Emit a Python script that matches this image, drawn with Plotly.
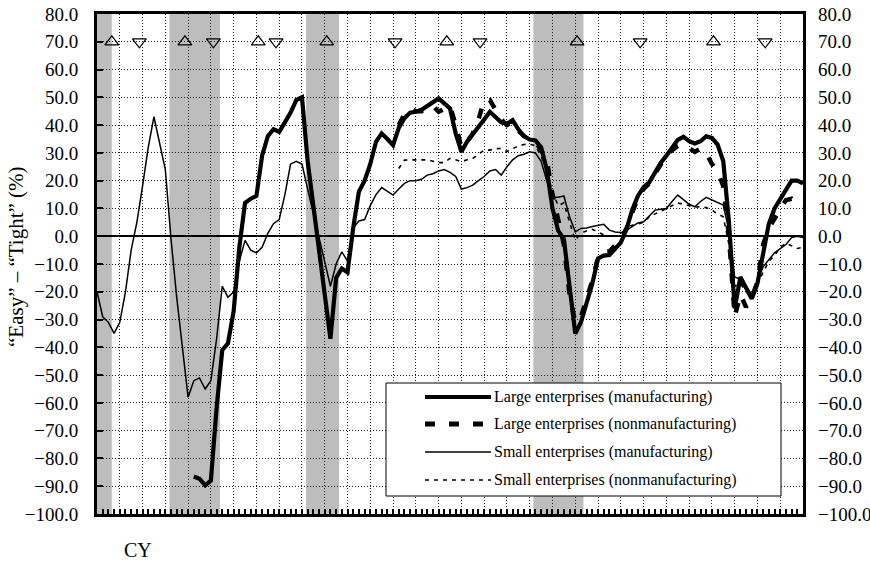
import plotly.graph_objects as go

# ---------------- data (quarterly) ----------------
SMALL_MFG_START = 1970.0
small_mfg = [-20, -29, -31, -35, -31, -20, -5, 5, 18, 32, 43, 34, 24, -1, -22, -40,
             -58, -52, -51, -55, -52, -37, -18, -22, -20, -9, -1.5, -5, -6, -4, 1, 4.5,
             6, 15, 26, 27, 26, 17, 8, -1, -10, -18, -10, -5.6, -9, 3, 5.5, 6,
             11, 15, 17.5, 16, 14.8, 17, 19, 20, 20, 20.5, 22, 22.5, 23.5, 24, 23, 21.5,
             17, 17.5, 18.4, 20, 21.5, 23.5, 24, 22, 25, 27.5, 29, 29.5, 30.4, 30, 27, 20,
             14, 14, 14.5, 7, 1.6, 2.8, 3, 3.5, 4, 4.3, 2.2, 1.5, 1.3, 2, 3.5, 4.8,
             5.2, 7.3, 9.4, 9.7, 10, 12.5, 14.8, 13.2, 11.5, 10.6, 12.5, 14, 13, 12, 11.2, 2,
             -14.7, -15.5, -18, -21, -16, -11, -8.5, -6, -4.5, -3, -0.5, 0, -0.5]

LARGE_MFG_START = 1974.25
large_mfg = [-86.5, -87.3, -89.7, -88, -62, -41, -38.6, -27, -4, 12, 13.5, 14.5, 29, 36, 38.5, 37.6,
             41, 44.5, 49, 50, 27, 10, -6, -21, -36.9, -15, -11.6, -13, 3, 16, 20, 26,
             34, 37, 35, 32.8, 39, 42.5, 44.5, 44.8, 45.5, 47, 48.3, 49.6, 47.8, 46, 37, 30.4,
             34, 36.5, 39, 42, 44.8, 43, 41, 40.5, 41.8, 38.5, 36, 34.8, 34.5, 32, 24, 10,
             2, -1, -17, -35, -31, -23.5, -17, -8, -7, -6.8, -4.5, -2.3, 2.5, 9.5, 14.5, 17.7,
             19.4, 23, 26.4, 29, 32, 34.7, 35.8, 34.2, 33.4, 34.2, 36, 35.4, 33, 27, 5, -26,
             -14.7, -19, -22.5, -17, -6, 4.5, 10, 13.5, 16.5, 20, 20, 19]

NONMFG_START = 1983.25
large_nonmfg = [40, 44, 46, 45, 45, 46, 47, 44.8, 46, 47, 40, 32, 34, 37, 42, 49,
                49, 45.4, 42, 40, 41, 38, 36, 35, 34, 31, 27.4, 15, 5, -3, -21, -31,
                -29, -23, -16, -7.5, -5.6, -5.5, -3.5, -1, 2.8, 9, 14, 17, 19, 22.5, 26, 29,
                31, 32.5, 33, 31.5, 30.4, 31.5, 30, 26, 23.5, 18, 0, -29, -21, -25.5, -22, -16.5,
                -3, 3, 6.5, 10, 13, 13.5, 11.2, 11]
small_nonmfg = [24.4, 27.4, 27.5, 27.5, 27.4, 27.5, 27, 26.5, 26.5, 28, 27.5, 26.8, 27.5, 28, 29.5, 31,
                31, 31.5, 31.6, 30.5, 31.5, 32.5, 33, 33.2, 32.5, 29, 23, 16, 11, 12, 5, -1.4,
                1, 2, 2.5, 1.5, 0.5, 0, 0, 0, 3.4, 4, 4.5, 5, 7, 8, 9, 10,
                11, 12, 11.5, 11, 10.5, 10.6, 10.3, 9.4, 8, 7, -3, -18, -17, -20, -21, -17,
                -13, -9, -7, -4, -2.5, -3.5, -4.4, -4]

series_names = ["Large enterprises (manufacturing)",
                "Large enterprises (nonmanufacturing)",
                "Small enterprises (manufacturing)",
                "Small enterprises (nonmanufacturing)"]

peaks = [1970.65, 1973.86, 1977.08, 1980.09, 1985.36, 1991.08, 1997.07]
troughs = [1971.86, 1975.11, 1977.86, 1983.09, 1986.82, 1993.85, 1999.34]
marker_level = 70

shade_start = [1970.0, 1973.18, 1979.18, 1989.16]
shade_end = [1970.65, 1975.40, 1980.63, 1991.36]

y_ticks = list(range(-100, 81, 10))
X_RANGE = [1970.0, 2001.0]
Y_RANGE = [-100, 80]


def qx(start, n):
    return [start + 0.25 * k for k in range(n)]


FONT = "Liberation Serif"

fig = go.Figure()

# shaded periods
for s, e in zip(shade_start, shade_end):
    fig.add_shape(type="rect", xref="x", yref="y", x0=s, x1=e, y0=Y_RANGE[0], y1=Y_RANGE[1],
                  fillcolor="#bdbdbd", line_width=0, layer="below")

fig.add_trace(go.Scatter(x=qx(SMALL_MFG_START, len(small_mfg)), y=small_mfg, mode="lines",
                         line=dict(color="black", width=1.5), name=series_names[2], showlegend=False))
fig.add_trace(go.Scatter(x=qx(NONMFG_START, len(small_nonmfg)), y=small_nonmfg, mode="lines",
                         line=dict(color="black", width=1.6, dash="4px,5px"), name=series_names[3], showlegend=False))
fig.add_trace(go.Scatter(x=qx(NONMFG_START, len(large_nonmfg)), y=large_nonmfg, mode="lines",
                         line=dict(color="black", width=4.5, dash="10px,14px"), name=series_names[1], showlegend=False))
fig.add_trace(go.Scatter(x=qx(LARGE_MFG_START, len(large_mfg)), y=large_mfg, mode="lines",
                         line=dict(color="black", width=4.2), name=series_names[0], showlegend=False))

fig.add_trace(go.Scatter(x=peaks, y=[marker_level] * len(peaks), mode="markers",
                         marker=dict(symbol="triangle-up-open", size=12, color="black", line=dict(width=1.2)),
                         showlegend=False, hoverinfo="skip"))
fig.add_trace(go.Scatter(x=troughs, y=[marker_level] * len(troughs), mode="markers",
                         marker=dict(symbol="triangle-down-open", size=12, color="black", line=dict(width=1.2)),
                         showlegend=False, hoverinfo="skip"))

# invisible trace for right axis
fig.add_trace(go.Scatter(x=[X_RANGE[0]], y=[0], yaxis="y2", mode="markers",
                         marker=dict(opacity=0), showlegend=False, hoverinfo="skip"))

# ---------------- layout ----------------
W, H = 870, 564
L, R, T, B = 97, 67, 14, 50
pw, ph = W - L - R, H - T - B


def px(xp):
    return (xp - L) / pw


def py(yp):
    return (H - B - yp) / ph


fig.update_layout(
    width=W, height=H,
    margin=dict(l=L, r=R, t=T, b=B, autoexpand=False),
    paper_bgcolor="white", plot_bgcolor="white",
    font=dict(family=FONT, color="black", size=19),
    showlegend=False,
    xaxis=dict(range=X_RANGE, tick0=1970, dtick=1, showticklabels=False, automargin=False,
               ticks="inside", ticklen=5, tickwidth=1.5, tickcolor="black",
               minor=dict(dtick=0.25, tick0=1970, ticks="inside", ticklen=5, tickwidth=1.5,
                          tickcolor="black", showgrid=False),
               showgrid=True, gridcolor="#222", gridwidth=1, griddash="1px,2px",
               showline=True, linecolor="black", linewidth=3, mirror=True, zeroline=False),
    yaxis=dict(range=Y_RANGE, tickvals=y_ticks, tickformat=".1f", automargin=False,
               ticks="inside", ticklen=6, tickwidth=2, tickcolor="black",
               ticklabelstandoff=12,
               showgrid=True, gridcolor="#222", gridwidth=1, griddash="1px,2px",
               zeroline=True, zerolinecolor="black", zerolinewidth=2,
               showline=True, linecolor="black", linewidth=3, mirror=True,
               tickfont=dict(size=19)),
    yaxis2=dict(range=Y_RANGE, tickvals=y_ticks, tickformat=".1f", overlaying="y", side="right",
                automargin=False, showgrid=False, zeroline=False, showline=False, ticks="",
                ticklabelstandoff=14, tickfont=dict(size=19)),
)

# legend drawn as a box
lx0, lx1, ly0, ly1 = 386, 781, 383, 496
fig.add_shape(type="rect", xref="paper", yref="paper", x0=px(lx0), x1=px(lx1), y0=py(ly1), y1=py(ly0),
              line=dict(color="black", width=1), fillcolor="white", layer="above")
rows = [397, 424, 452, 480]
styles = [dict(width=4, dash="solid"), dict(width=5, dash="10px,14px"),
          dict(width=1.5, dash="solid"), dict(width=1.6, dash="4px,5px")]
for name, yy, st in zip(series_names, rows, styles):
    fig.add_shape(type="line", xref="paper", yref="paper", x0=px(425), x1=px(491), y0=py(yy), y1=py(yy),
                  line=dict(color="black", **st), layer="above")
    fig.add_annotation(xref="paper", yref="paper", x=px(492), y=py(yy), text=name, showarrow=False,
                       xanchor="left", yanchor="middle", font=dict(family=FONT, size=16, color="black"))

fig.add_annotation(xref="paper", yref="paper", x=px(16), y=py(257),
                   text="\u201cEasy\u201d \u2013 \u201cTight\u201d (%)", textangle=-90, showarrow=False,
                   xanchor="center", yanchor="middle", font=dict(family=FONT, size=21, color="black"))
fig.add_annotation(xref="paper", yref="paper", x=px(138), y=py(550), text="CY", showarrow=False,
                   xanchor="center", yanchor="middle", font=dict(family=FONT, size=20, color="black"))

fig.write_html("out.html")
